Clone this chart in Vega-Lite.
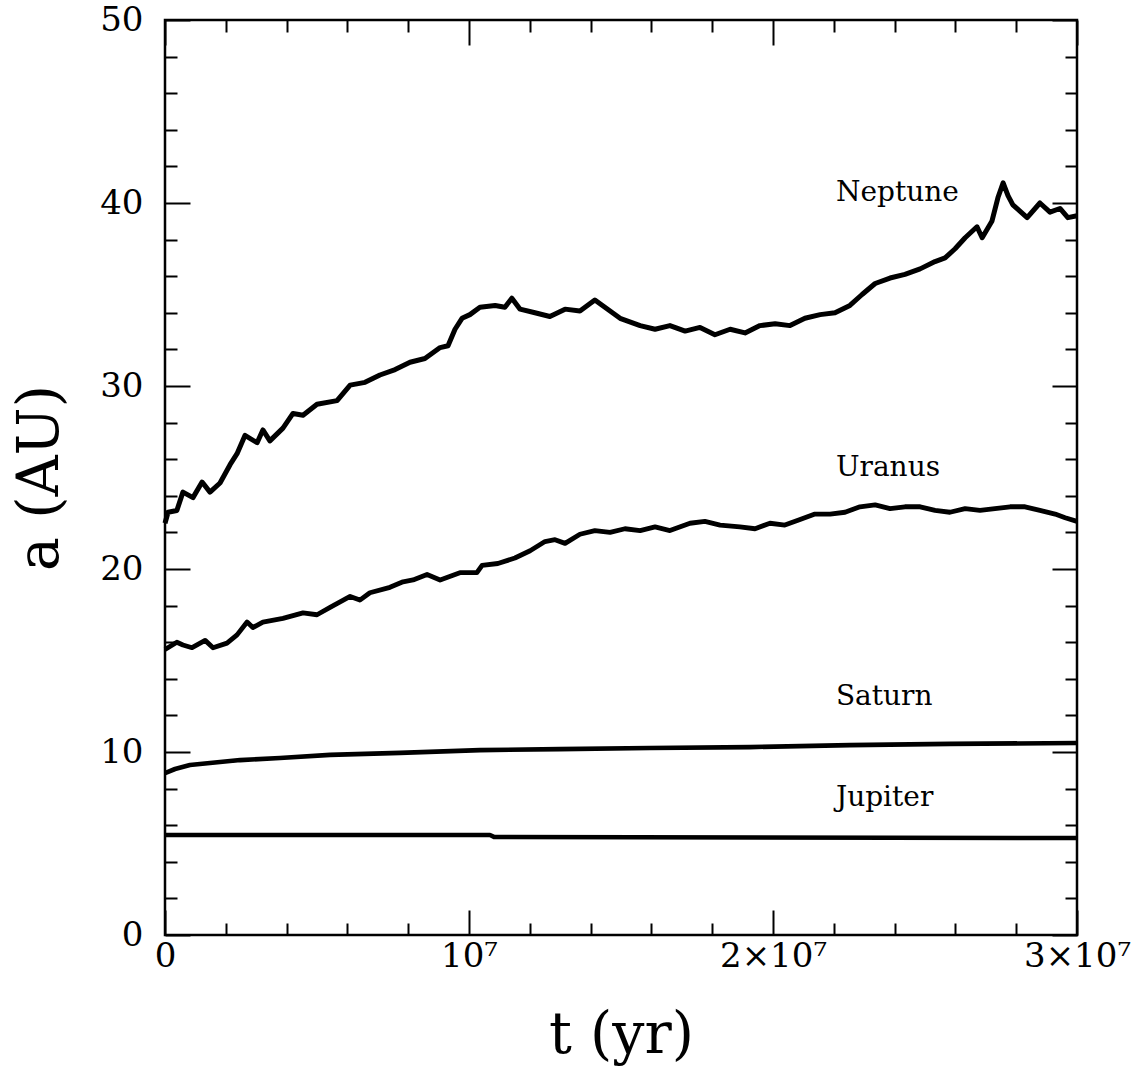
{
  "$schema": "https://vega.github.io/schema/vega-lite/v6.json",
  "width": 912,
  "height": 915,
  "autosize": {"type": "none"},
  "padding": {"left": 165, "top": 20, "right": 64, "bottom": 132},
  "background": "white",
  "config": {
    "view": {"stroke": "black", "strokeWidth": 2.5},
    "axis": {
      "labelFont": "DejaVu Serif",
      "titleFont": "DejaVu Serif",
      "labelColor": "black",
      "titleColor": "black",
      "tickColor": "black",
      "tickWidth": 2,
      "domain": false,
      "grid": false,
      "labelFlush": false,
      "labelOverlap": false,
      "labelBound": false,
      "titleFontWeight": "normal"
    }
  },
  "datasets": {
    "planets": [
      {"planet": "Neptune", "t": 0, "a": 22.5},
      {"planet": "Neptune", "t": 100000, "a": 23.1},
      {"planet": "Neptune", "t": 390000, "a": 23.2},
      {"planet": "Neptune", "t": 590000, "a": 24.2},
      {"planet": "Neptune", "t": 920000, "a": 23.9},
      {"planet": "Neptune", "t": 1220000, "a": 24.75},
      {"planet": "Neptune", "t": 1480000, "a": 24.2},
      {"planet": "Neptune", "t": 1810000, "a": 24.7},
      {"planet": "Neptune", "t": 2140000, "a": 25.7},
      {"planet": "Neptune", "t": 2370000, "a": 26.3},
      {"planet": "Neptune", "t": 2630000, "a": 27.3},
      {"planet": "Neptune", "t": 3030000, "a": 26.9},
      {"planet": "Neptune", "t": 3220000, "a": 27.6},
      {"planet": "Neptune", "t": 3450000, "a": 27.0},
      {"planet": "Neptune", "t": 3880000, "a": 27.7},
      {"planet": "Neptune", "t": 4210000, "a": 28.5},
      {"planet": "Neptune", "t": 4540000, "a": 28.4},
      {"planet": "Neptune", "t": 5000000, "a": 29.0},
      {"planet": "Neptune", "t": 5660000, "a": 29.2},
      {"planet": "Neptune", "t": 6090000, "a": 30.05},
      {"planet": "Neptune", "t": 6580000, "a": 30.2},
      {"planet": "Neptune", "t": 7070000, "a": 30.6},
      {"planet": "Neptune", "t": 7570000, "a": 30.9},
      {"planet": "Neptune", "t": 8060000, "a": 31.3},
      {"planet": "Neptune", "t": 8550000, "a": 31.5},
      {"planet": "Neptune", "t": 9050000, "a": 32.1},
      {"planet": "Neptune", "t": 9310000, "a": 32.2},
      {"planet": "Neptune", "t": 9540000, "a": 33.1},
      {"planet": "Neptune", "t": 9770000, "a": 33.7},
      {"planet": "Neptune", "t": 10030000, "a": 33.9},
      {"planet": "Neptune", "t": 10360000, "a": 34.3},
      {"planet": "Neptune", "t": 10860000, "a": 34.4},
      {"planet": "Neptune", "t": 11180000, "a": 34.3},
      {"planet": "Neptune", "t": 11410000, "a": 34.8},
      {"planet": "Neptune", "t": 11680000, "a": 34.2},
      {"planet": "Neptune", "t": 12170000, "a": 34.0},
      {"planet": "Neptune", "t": 12660000, "a": 33.8},
      {"planet": "Neptune", "t": 13160000, "a": 34.2},
      {"planet": "Neptune", "t": 13650000, "a": 34.1},
      {"planet": "Neptune", "t": 14140000, "a": 34.7},
      {"planet": "Neptune", "t": 14470000, "a": 34.3},
      {"planet": "Neptune", "t": 14970000, "a": 33.7},
      {"planet": "Neptune", "t": 15630000, "a": 33.3},
      {"planet": "Neptune", "t": 16120000, "a": 33.1},
      {"planet": "Neptune", "t": 16610000, "a": 33.3},
      {"planet": "Neptune", "t": 17110000, "a": 33.0},
      {"planet": "Neptune", "t": 17600000, "a": 33.2},
      {"planet": "Neptune", "t": 18090000, "a": 32.8},
      {"planet": "Neptune", "t": 18590000, "a": 33.1},
      {"planet": "Neptune", "t": 19080000, "a": 32.9},
      {"planet": "Neptune", "t": 19570000, "a": 33.3},
      {"planet": "Neptune", "t": 20070000, "a": 33.4},
      {"planet": "Neptune", "t": 20560000, "a": 33.3},
      {"planet": "Neptune", "t": 21050000, "a": 33.7},
      {"planet": "Neptune", "t": 21550000, "a": 33.9},
      {"planet": "Neptune", "t": 22040000, "a": 34.0},
      {"planet": "Neptune", "t": 22530000, "a": 34.4},
      {"planet": "Neptune", "t": 22930000, "a": 35.0},
      {"planet": "Neptune", "t": 23360000, "a": 35.6},
      {"planet": "Neptune", "t": 23850000, "a": 35.9},
      {"planet": "Neptune", "t": 24340000, "a": 36.1},
      {"planet": "Neptune", "t": 24840000, "a": 36.4},
      {"planet": "Neptune", "t": 25330000, "a": 36.8},
      {"planet": "Neptune", "t": 25660000, "a": 37.0},
      {"planet": "Neptune", "t": 25990000, "a": 37.5},
      {"planet": "Neptune", "t": 26320000, "a": 38.1},
      {"planet": "Neptune", "t": 26710000, "a": 38.7},
      {"planet": "Neptune", "t": 26880000, "a": 38.1},
      {"planet": "Neptune", "t": 27200000, "a": 39.0},
      {"planet": "Neptune", "t": 27400000, "a": 40.3},
      {"planet": "Neptune", "t": 27570000, "a": 41.1},
      {"planet": "Neptune", "t": 27730000, "a": 40.4},
      {"planet": "Neptune", "t": 27890000, "a": 39.9},
      {"planet": "Neptune", "t": 28360000, "a": 39.2},
      {"planet": "Neptune", "t": 28780000, "a": 40.0},
      {"planet": "Neptune", "t": 29110000, "a": 39.5},
      {"planet": "Neptune", "t": 29440000, "a": 39.7},
      {"planet": "Neptune", "t": 29700000, "a": 39.2},
      {"planet": "Neptune", "t": 30000000, "a": 39.3},
      {"planet": "Uranus", "t": 0, "a": 15.6},
      {"planet": "Uranus", "t": 390000, "a": 16.0},
      {"planet": "Uranus", "t": 590000, "a": 15.85},
      {"planet": "Uranus", "t": 890000, "a": 15.7},
      {"planet": "Uranus", "t": 1320000, "a": 16.1},
      {"planet": "Uranus", "t": 1580000, "a": 15.7},
      {"planet": "Uranus", "t": 2040000, "a": 15.95},
      {"planet": "Uranus", "t": 2370000, "a": 16.4},
      {"planet": "Uranus", "t": 2700000, "a": 17.1},
      {"planet": "Uranus", "t": 2890000, "a": 16.8},
      {"planet": "Uranus", "t": 3220000, "a": 17.1},
      {"planet": "Uranus", "t": 3880000, "a": 17.3},
      {"planet": "Uranus", "t": 4540000, "a": 17.6},
      {"planet": "Uranus", "t": 5000000, "a": 17.5},
      {"planet": "Uranus", "t": 5430000, "a": 17.9},
      {"planet": "Uranus", "t": 6090000, "a": 18.5},
      {"planet": "Uranus", "t": 6410000, "a": 18.3},
      {"planet": "Uranus", "t": 6740000, "a": 18.7},
      {"planet": "Uranus", "t": 7400000, "a": 19.0},
      {"planet": "Uranus", "t": 7830000, "a": 19.3},
      {"planet": "Uranus", "t": 8160000, "a": 19.4},
      {"planet": "Uranus", "t": 8620000, "a": 19.7},
      {"planet": "Uranus", "t": 9050000, "a": 19.4},
      {"planet": "Uranus", "t": 9700000, "a": 19.8},
      {"planet": "Uranus", "t": 10260000, "a": 19.8},
      {"planet": "Uranus", "t": 10430000, "a": 20.2},
      {"planet": "Uranus", "t": 10950000, "a": 20.3},
      {"planet": "Uranus", "t": 11510000, "a": 20.6},
      {"planet": "Uranus", "t": 12010000, "a": 21.0},
      {"planet": "Uranus", "t": 12500000, "a": 21.5},
      {"planet": "Uranus", "t": 12830000, "a": 21.6},
      {"planet": "Uranus", "t": 13160000, "a": 21.4},
      {"planet": "Uranus", "t": 13650000, "a": 21.9},
      {"planet": "Uranus", "t": 14140000, "a": 22.1},
      {"planet": "Uranus", "t": 14640000, "a": 22.0},
      {"planet": "Uranus", "t": 15130000, "a": 22.2},
      {"planet": "Uranus", "t": 15630000, "a": 22.1},
      {"planet": "Uranus", "t": 16120000, "a": 22.3},
      {"planet": "Uranus", "t": 16610000, "a": 22.1},
      {"planet": "Uranus", "t": 17270000, "a": 22.5},
      {"planet": "Uranus", "t": 17760000, "a": 22.6},
      {"planet": "Uranus", "t": 18260000, "a": 22.4},
      {"planet": "Uranus", "t": 18910000, "a": 22.3},
      {"planet": "Uranus", "t": 19410000, "a": 22.2},
      {"planet": "Uranus", "t": 19900000, "a": 22.5},
      {"planet": "Uranus", "t": 20390000, "a": 22.4},
      {"planet": "Uranus", "t": 20890000, "a": 22.7},
      {"planet": "Uranus", "t": 21380000, "a": 23.0},
      {"planet": "Uranus", "t": 21880000, "a": 23.0},
      {"planet": "Uranus", "t": 22370000, "a": 23.1},
      {"planet": "Uranus", "t": 22860000, "a": 23.4},
      {"planet": "Uranus", "t": 23360000, "a": 23.5},
      {"planet": "Uranus", "t": 23850000, "a": 23.3},
      {"planet": "Uranus", "t": 24340000, "a": 23.4},
      {"planet": "Uranus", "t": 24840000, "a": 23.4},
      {"planet": "Uranus", "t": 25330000, "a": 23.2},
      {"planet": "Uranus", "t": 25820000, "a": 23.1},
      {"planet": "Uranus", "t": 26320000, "a": 23.3},
      {"planet": "Uranus", "t": 26810000, "a": 23.2},
      {"planet": "Uranus", "t": 27300000, "a": 23.3},
      {"planet": "Uranus", "t": 27800000, "a": 23.4},
      {"planet": "Uranus", "t": 28290000, "a": 23.4},
      {"planet": "Uranus", "t": 28780000, "a": 23.2},
      {"planet": "Uranus", "t": 29280000, "a": 23.0},
      {"planet": "Uranus", "t": 29610000, "a": 22.8},
      {"planet": "Uranus", "t": 30000000, "a": 22.6},
      {"planet": "Saturn", "t": 0, "a": 8.85},
      {"planet": "Saturn", "t": 330000, "a": 9.07},
      {"planet": "Saturn", "t": 820000, "a": 9.29},
      {"planet": "Saturn", "t": 1480000, "a": 9.4},
      {"planet": "Saturn", "t": 2470000, "a": 9.56},
      {"planet": "Saturn", "t": 3780000, "a": 9.67},
      {"planet": "Saturn", "t": 5430000, "a": 9.84},
      {"planet": "Saturn", "t": 7730000, "a": 9.95},
      {"planet": "Saturn", "t": 10360000, "a": 10.1},
      {"planet": "Saturn", "t": 12990000, "a": 10.16},
      {"planet": "Saturn", "t": 15950000, "a": 10.22},
      {"planet": "Saturn", "t": 19240000, "a": 10.27},
      {"planet": "Saturn", "t": 22530000, "a": 10.38},
      {"planet": "Saturn", "t": 25820000, "a": 10.44},
      {"planet": "Saturn", "t": 30000000, "a": 10.49},
      {"planet": "Jupiter", "t": 0, "a": 5.46},
      {"planet": "Jupiter", "t": 10690000, "a": 5.46},
      {"planet": "Jupiter", "t": 10820000, "a": 5.36},
      {"planet": "Jupiter", "t": 30000000, "a": 5.3}
    ],
    "labels": [
      {"name": "Neptune", "t": 22070000, "a": 40.55},
      {"name": "Uranus", "t": 22070000, "a": 25.5},
      {"name": "Saturn", "t": 22070000, "a": 13.0},
      {"name": "Jupiter", "t": 22070000, "a": 7.5}
    ]
  },
  "resolve": {"axis": {"x": "independent", "y": "independent"}, "scale": {"x": "shared", "y": "shared"}},
  "layer": [
    {
      "data": {"name": "planets"},
      "mark": {"type": "line", "color": "black", "strokeJoin": "round"},
      "encoding": {
        "x": {"field": "t", "type": "quantitative",
          "scale": {"domain": [0, 30000000], "nice": false, "zero": false},
          "axis": {"orient": "bottom", "values": [0, 10000000, 20000000, 30000000], "ticks": false,
            "labelExpr": "datum.value == 0 ? '0' : datum.value == 10000000 ? '10⁷' : datum.value == 20000000 ? '2×10⁷' : '3×10⁷'",
            "labelFontSize": 34, "labelPadding": 4, "title": "t (yr)", "titleFontSize": 57, "titlePadding": 34}},
        "y": {"field": "a", "type": "quantitative",
          "scale": {"domain": [0, 50], "nice": false, "zero": false},
          "axis": {"orient": "left", "values": [0, 10, 20, 30, 40, 50], "ticks": false,
            "labelFontSize": 34, "labelPadding": 22, "title": "a (AU)", "titleFontSize": 57, "titlePadding": 30}},
        "detail": {"field": "planet"},
        "strokeWidth": {"field": "planet", "type": "nominal", "legend": null,
          "scale": {"domain": ["Neptune", "Uranus", "Saturn", "Jupiter"], "range": [5, 4.5, 3.2, 2.4]}}
      }
    },
    {
      "data": {"name": "labels"},
      "mark": {"type": "text", "align": "left", "baseline": "middle", "font": "DejaVu Serif", "fontSize": 28, "color": "black"},
      "encoding": {
        "x": {"field": "t", "type": "quantitative", "axis": null},
        "y": {"field": "a", "type": "quantitative", "axis": null},
        "text": {"field": "name"}
      }
    },
    {
      "data": {"name": "labels"},
      "mark": {"type": "point", "opacity": 0},
      "encoding": {
        "x": {"field": "t", "type": "quantitative",
          "axis": {"orient": "bottom", "values": [0, 10000000, 20000000, 30000000], "tickSize": -25, "labels": false, "title": null}},
        "y": {"field": "a", "type": "quantitative",
          "axis": {"orient": "left", "values": [0, 10, 20, 30, 40, 50], "tickSize": -25, "labels": false, "title": null}}
      }
    },
    {
      "data": {"name": "labels"},
      "mark": {"type": "point", "opacity": 0},
      "encoding": {
        "x": {"field": "t", "type": "quantitative",
          "axis": {"orient": "bottom", "values": [2000000, 4000000, 6000000, 8000000, 12000000, 14000000, 16000000, 18000000, 22000000, 24000000, 26000000, 28000000], "tickSize": -12, "labels": false, "title": null}},
        "y": {"field": "a", "type": "quantitative",
          "axis": {"orient": "left", "values": [2, 4, 6, 8, 12, 14, 16, 18, 22, 24, 26, 28, 32, 34, 36, 38, 42, 44, 46, 48], "tickSize": -12, "labels": false, "title": null}}
      }
    },
    {
      "data": {"name": "labels"},
      "mark": {"type": "point", "opacity": 0},
      "encoding": {
        "x": {"field": "t", "type": "quantitative",
          "axis": {"orient": "top", "values": [0, 10000000, 20000000, 30000000], "tickSize": -25, "labels": false, "title": null}},
        "y": {"field": "a", "type": "quantitative",
          "axis": {"orient": "right", "values": [0, 10, 20, 30, 40, 50], "tickSize": -25, "labels": false, "title": null}}
      }
    },
    {
      "data": {"name": "labels"},
      "mark": {"type": "point", "opacity": 0},
      "encoding": {
        "x": {"field": "t", "type": "quantitative",
          "axis": {"orient": "top", "values": [2000000, 4000000, 6000000, 8000000, 12000000, 14000000, 16000000, 18000000, 22000000, 24000000, 26000000, 28000000], "tickSize": -12, "labels": false, "title": null}},
        "y": {"field": "a", "type": "quantitative",
          "axis": {"orient": "right", "values": [2, 4, 6, 8, 12, 14, 16, 18, 22, 24, 26, 28, 32, 34, 36, 38, 42, 44, 46, 48], "tickSize": -12, "labels": false, "title": null}}
      }
    }
  ]
}
